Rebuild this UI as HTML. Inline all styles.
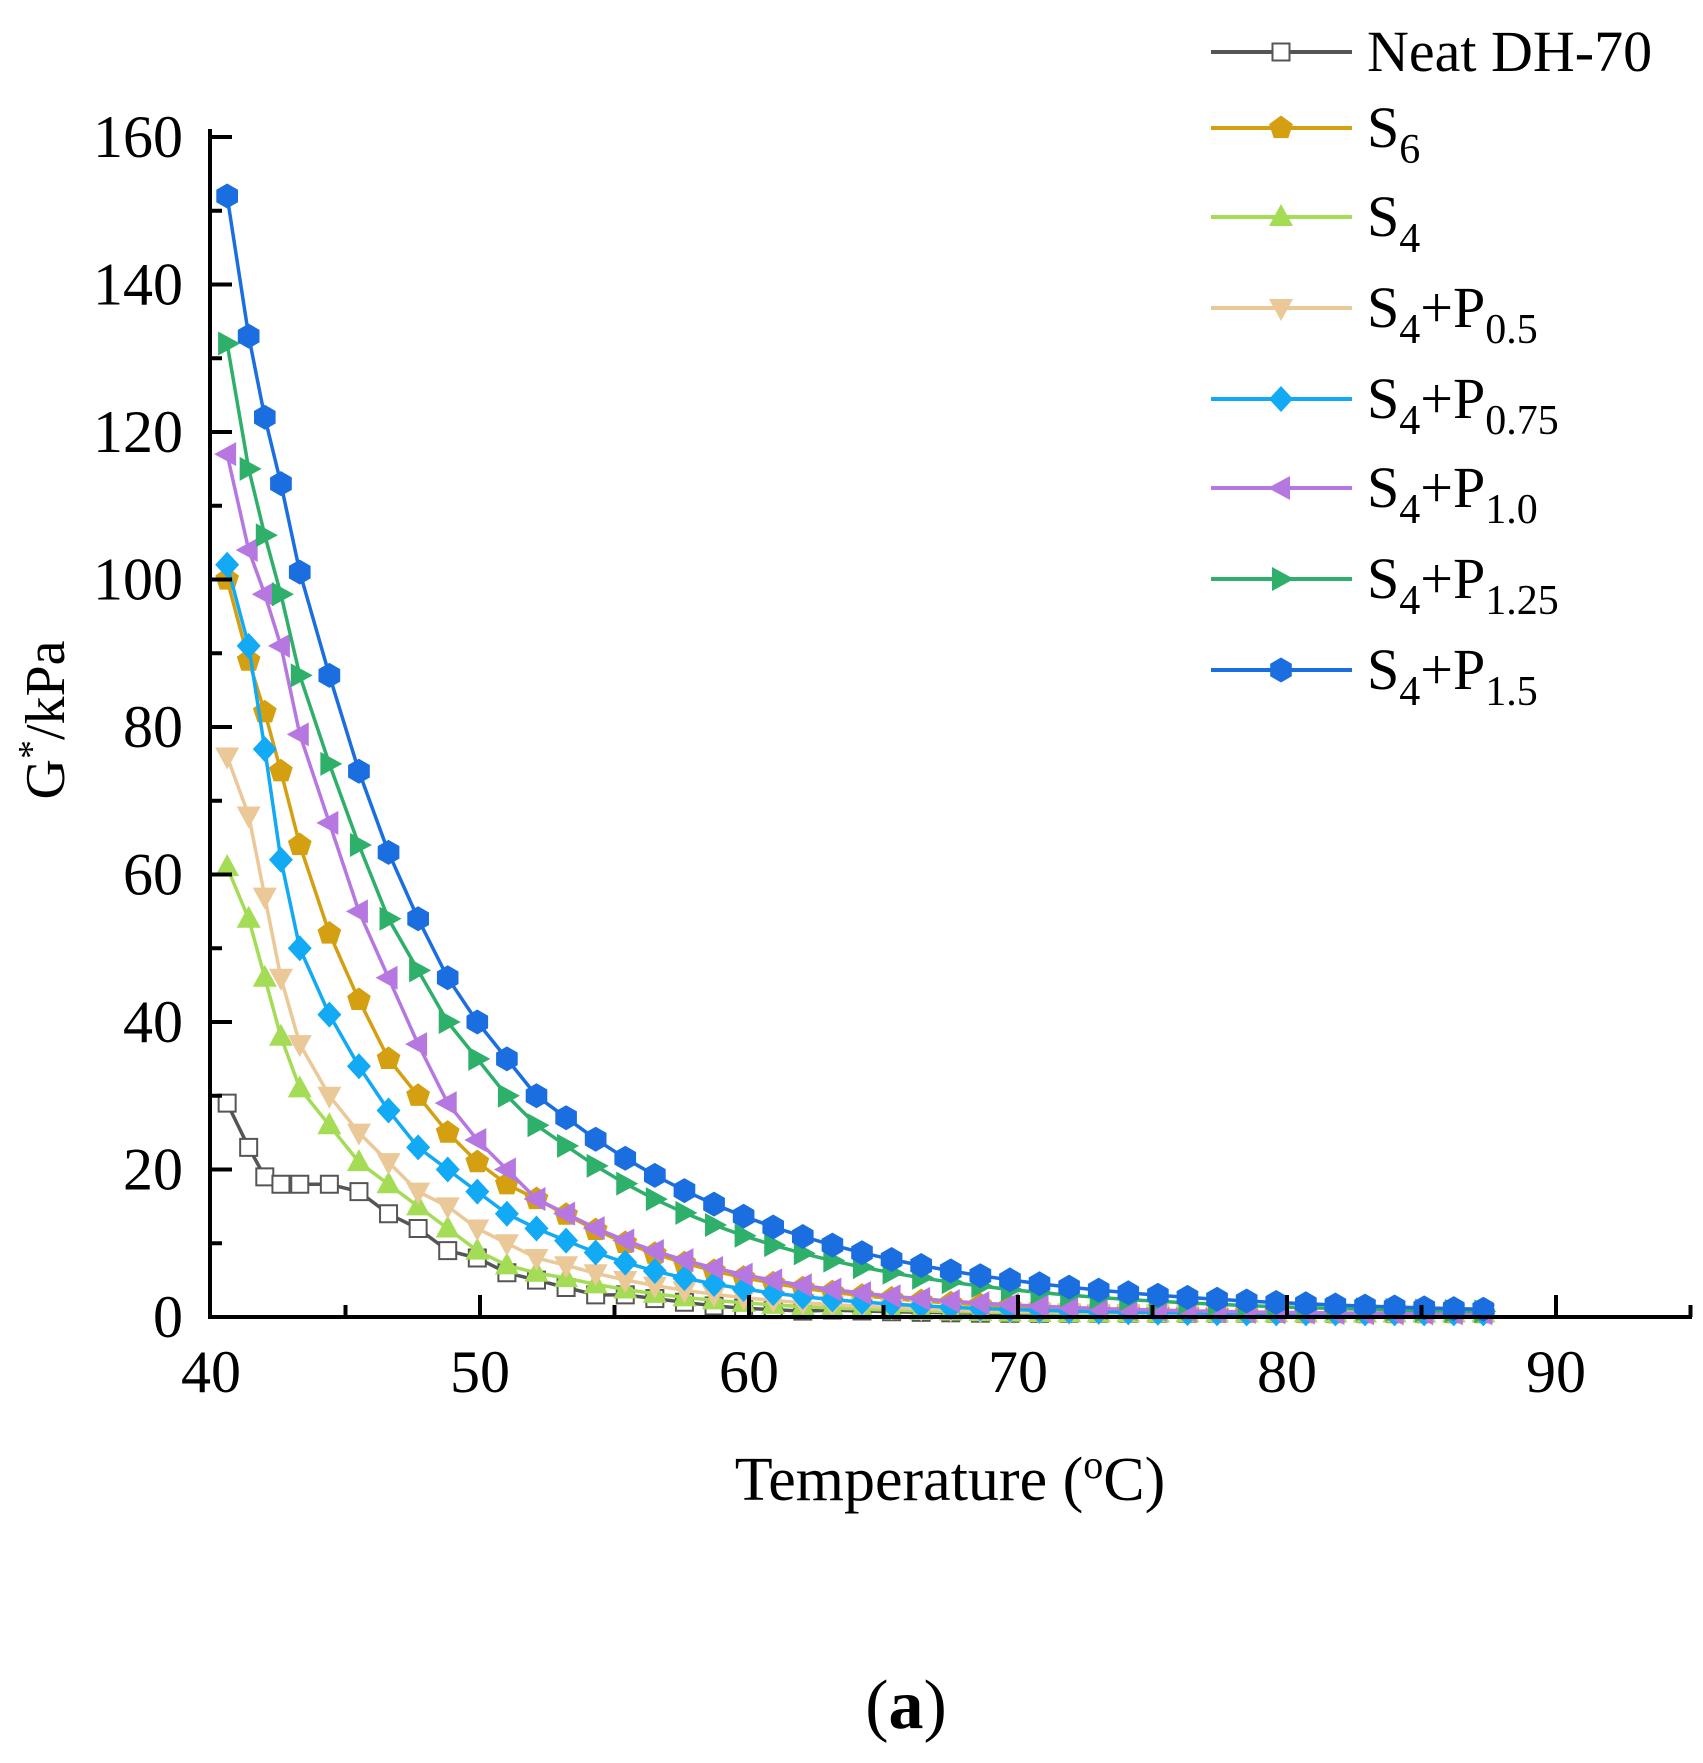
<!DOCTYPE html>
<html><head><meta charset="utf-8"><style>
html,body{margin:0;padding:0;background:#fff;}
svg{display:block;font-family:"Liberation Serif",serif;}
</style></head><body>
<svg id="s" width="1703" height="1763" viewBox="0 0 1703 1763" xmlns="http://www.w3.org/2000/svg">
<g id="plot"></g>
<g stroke="#000" stroke-width="4" fill="none">
<line x1="210" y1="129" x2="210" y2="1319"/>
<line x1="208" y1="1317" x2="1692" y2="1317"/>
</g>
<g id="ticks" stroke="#000" stroke-width="4"></g>
<g font-size="60" fill="#000" text-anchor="end" id="ylab"></g>
<g font-size="60" fill="#000" text-anchor="middle" id="xlab"></g>
<text x="950" y="1500" font-size="62" text-anchor="middle">Temperature (<tspan font-size="40" dy="-22">o</tspan><tspan dy="22">C)</tspan></text>
<text transform="translate(64,720) rotate(-90)" font-size="56" text-anchor="middle">G<tspan font-size="38" dy="-20">*</tspan><tspan dy="20">/kPa</tspan></text>
<text x="906" y="1728" font-size="70" text-anchor="middle">(<tspan font-weight="bold">a</tspan>)</text>
<g id="legend"></g>
</svg>
<script>
var NS="http://www.w3.org/2000/svg";
function el(t,a,p){var e=document.createElementNS(NS,t);for(var k in a)e.setAttribute(k,a[k]);(p||document.getElementById('plot')).appendChild(e);return e;}
function X(t){return 211+(t-40)*26.9;}
function Y(v){return 1317-v*7.375;}
var tk=document.getElementById('ticks');
for(var v=0;v<=160;v+=10){var L=(v%20==0)?22:12;el('line',{x1:210,y1:Y(v),x2:210+L,y2:Y(v)},tk);
 if(v%20==0){var t=el('text',{x:183,y:Y(v)+20},document.getElementById('ylab'));t.textContent=v;}}
for(var x=45;x<=95;x+=5){var L=(x%10==0)?22:12;el('line',{x1:X(x),y1:1317,x2:X(x),y2:1317-L},tk);}
for(var x=40;x<=90;x+=10){var t=el('text',{x:X(x),y:1392},document.getElementById('xlab'));t.textContent=x;}
var T=[40.6,41.4,42.0,42.6,43.3,44.4];var c=44.4;while(c<86.5){c+=1.1;T.push(+c.toFixed(2));}
var S=[
 {c:'#555',m:'sq',v:[29,23,19,18,18,18,17,14,12,9,8,6,5,4,3,3,2.5,2,1.5,1.2,1,0.8],k:0.2},
 {c:'#d4a012',m:'pent',v:[100,89,82,74,64,52,43,35,30,25,21,18,16],k:0.15},
 {c:'#a4dc55',m:'up',v:[61,54,46,38,31,26,21,18,15,12,9,7,6],k:0.17},
 {c:'#ebc898',m:'down',v:[76,68,57,46,37,30,25,21,17,15,12,10,8],k:0.16},
 {c:'#12aaf5',m:'dia',v:[102,91,77,62,50,41,34,28,23,20,17,14,12],k:0.16},
 {c:'#b678e0',m:'left',v:[117,104,98,91,79,67,55,46,37,29,24,20,16],k:0.14},
 {c:'#2eaf6a',m:'right',v:[132,115,106,98,87,75,64,54,47,40,35,30,26],k:0.115},
 {c:'#1a6ee0',m:'hex',v:[152,133,122,113,101,87,74,63,54,46,40,35,30],k:0.105}
];
function val(s,i){if(i<s.v.length)return s.v[i];var n=s.v.length-1,l=s.v[n];return Math.max(0.5,l*Math.exp(-s.k*(T[i]-T[n]))+0.3);}
function marker(g,m,x,y,col){var r=12.5;
 if(m=='sq')el('rect',{x:x-8.5,y:y-8.5,width:17,height:17,fill:'#fff',stroke:col,'stroke-width':2},g);
 else if(m=='pent'||m=='hex'){var n=m=='pent'?5:6,p=[];for(var j=0;j<n;j++){var a=-Math.PI/2+j*2*Math.PI/n;p.push((x+r*Math.cos(a)).toFixed(1)+','+(y+r*Math.sin(a)).toFixed(1));}el('polygon',{points:p.join(' '),fill:col},g);}
 else if(m=='up')el('polygon',{points:(x)+','+(y-13)+' '+(x+12)+','+(y+9)+' '+(x-12)+','+(y+9),fill:col},g);
 else if(m=='down')el('polygon',{points:(x)+','+(y+13)+' '+(x+12)+','+(y-9)+' '+(x-12)+','+(y-9),fill:col},g);
 else if(m=='left')el('polygon',{points:(x-13)+','+y+' '+(x+9)+','+(y-12)+' '+(x+9)+','+(y+12),fill:col},g);
 else if(m=='right')el('polygon',{points:(x+13)+','+y+' '+(x-9)+','+(y-12)+' '+(x-9)+','+(y+12),fill:col},g);
 else if(m=='dia')el('polygon',{points:x+','+(y-13)+' '+(x+12)+','+y+' '+x+','+(y+13)+' '+(x-12)+','+y,fill:col},g);}
var P=document.getElementById('plot');
S.forEach(function(s){var g=el('g',{},P);var pts=[];for(var i=0;i<T.length;i++)pts.push(X(T[i]).toFixed(1)+','+Y(val(s,i)).toFixed(1));
 el('polyline',{points:pts.join(' '),fill:'none',stroke:s.c,'stroke-width':3.5},g);
 for(var i=0;i<T.length;i++)marker(g,s.m,X(T[i]),Y(val(s,i)),s.c);});
var lg=document.getElementById('legend');
var labs=[['Neat DH-70'],['S','6'],['S','4'],['S','4','+P','0.5'],['S','4','+P','0.75'],['S','4','+P','1.0'],['S','4','+P','1.25'],['S','4','+P','1.5']];
var ys=[52,128,217,308,399,488,579,670];
S.forEach(function(s,i){var y=ys[i];el('line',{x1:1211,y1:y,x2:1352,y2:y,stroke:s.c,'stroke-width':4},lg);marker(lg,s.m,1281,y,s.c);
 var t=el('text',{x:1367,y:y+19,'font-size':58},lg);var l=labs[i];
 if(l.length==1){t.textContent=l[0];}
 else{var a=el('tspan',{},t);a.textContent=l[0];var b=el('tspan',{dy:16,'font-size':42},t);b.textContent=l[1];
  if(l.length>2){var c2=el('tspan',{dy:-16},t);c2.textContent=l[2];var d=el('tspan',{dy:16,'font-size':42},t);d.textContent=l[3];}}});
</script>
</body></html>
